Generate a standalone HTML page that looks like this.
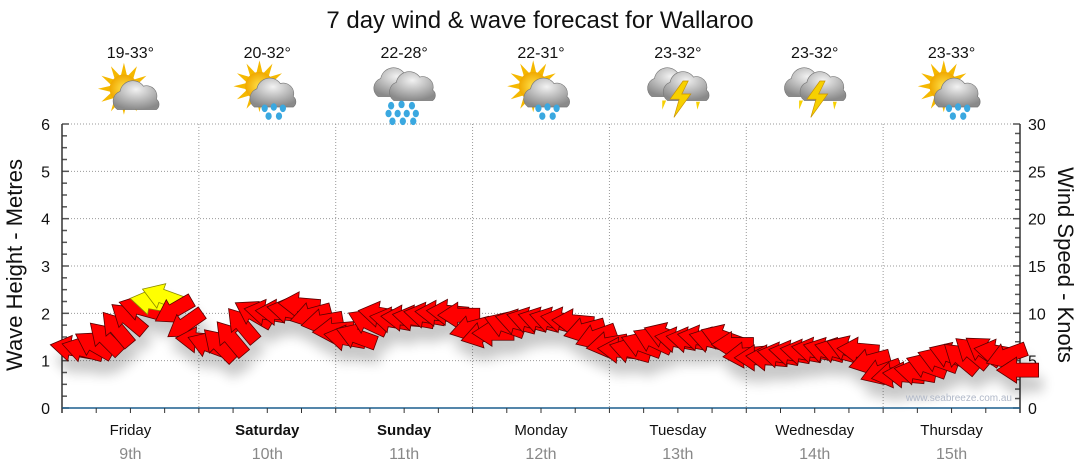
<!DOCTYPE html>
<html><head><meta charset="utf-8"><style>
html,body{margin:0;padding:0;background:#fff;width:1080px;height:475px;overflow:hidden}
svg{display:block;font-family:"Liberation Sans","DejaVu Sans",sans-serif}
</style></head><body>
<svg id="chart" width="1080" height="475" viewBox="0 0 1080 475">
<defs>
<filter id="shadow" x="-20%" y="-20%" width="140%" height="200%">
<feGaussianBlur in="SourceAlpha" stdDeviation="6"/>
<feOffset dx="4" dy="14" result="b"/>
<feComponentTransfer><feFuncA type="linear" slope="0.22"/></feComponentTransfer>
<feMerge><feMergeNode/><feMergeNode in="SourceGraphic"/></feMerge>
</filter>
<radialGradient id="cloudG" cx="50%" cy="30%" r="70%"><stop offset="0" stop-color="#f2f2f2"/><stop offset="1" stop-color="#8a8a8a"/></radialGradient>
<radialGradient id="sunG" cx="50%" cy="50%" r="50%"><stop offset="0" stop-color="#ffe14a"/><stop offset="1" stop-color="#f0a800"/></radialGradient>
</defs>
<text x="540" y="28" text-anchor="middle" font-size="24" fill="#111">7 day wind &amp; wave forecast for Wallaroo</text>
<g id="grid"></g>
<g id="axes"></g>
<g id="icons"></g>
<g id="arrows" filter="url(#shadow)"></g>
<text x="1012" y="401" text-anchor="end" font-size="10" fill="#b0b8c8">www.seabreeze.com.au</text>
<text transform="translate(22,265) rotate(-90)" text-anchor="middle" font-size="22" fill="#111">Wave Height - Metres</text>
<text transform="translate(1058,265) rotate(90)" text-anchor="middle" font-size="22" fill="#111">Wind Speed - Knots</text>
</svg>
<script>
const days = ["Friday","Saturday","Sunday","Monday","Tuesday","Wednesday","Thursday"];
const dates = ["9th","10th","11th","12th","13th","14th","15th"];
const boldDays = [false,true,true,false,false,false,false];
const temps = ["19-33°","20-32°","22-28°","22-31°","23-32°","23-32°","23-33°"];
const icons = ["sunCloud","sunRain","rain","sunRain","storm","storm","sunRain"];
const waveTicks = [0,1,2,3,4,5,6];
const windTicks = [0,5,10,15,20,25,30];
// wind speed (knots) every 2 hours
const windSpeed = [6.3,6.2,6.7,7.4,8.4,9.5,10.6,11.2,11.8,10.3,8.8,7.2,
 6.7,6.7,7.4,8.8,10.0,10.1,10.1,10.3,10.9,9.8,9.1,8.2,
 7.4,7.6,9.1,9.9,9.3,9.5,9.5,9.8,10.0,10.1,9.8,8.4,
 7.7,7.9,8.8,9.1,9.3,9.3,9.3,9.3,9.1,8.2,7.5,6.7,
 6.1,6.1,6.7,7.2,7.7,7.2,7.2,7.4,7.2,7.5,6.7,5.6,
 5.3,5.3,5.6,5.8,5.9,6.1,6.1,6.1,6.3,6.1,4.9,3.8,
 3.5,3.5,3.8,4.5,5.1,5.6,5.3,5.9,6.1,5.9,5.5,4.0];
// arrow tilt in degrees (0 = pointing left, + = up-left)
const windTilt = [10,15,30,45,50,40,15,10,20,-30,-35,5,
 20,45,50,50,30,10,5,10,5,-15,-10,-5,
 10,20,25,10,10,5,10,10,5,5,0,-15,
 -15,0,20,15,15,15,15,10,5,-15,-20,-10,
 5,15,20,25,20,10,10,10,15,20,0,-5,
 0,5,10,10,10,10,15,15,20,5,-15,-20,
 -10,5,10,20,20,20,40,40,35,10,-20,0];

const NS="http://www.w3.org/2000/svg";
const X0=62,X1=1020,Y0=408,Y1=124,DAYW=(X1-X0)/7;
const yWave=v=>Y0-(v/6)*(Y0-Y1);
const yWind=v=>Y0-(v/30)*(Y0-Y1);
const xHour=h=>X0+(h/24)*DAYW;
function mk(tag,attrs,parent){const e=document.createElementNS(NS,tag);for(const k in attrs)e.setAttribute(k,attrs[k]);parent.appendChild(e);return e;}
const grid=document.getElementById('grid'),axes=document.getElementById('axes'),ic=document.getElementById('icons'),ar=document.getElementById('arrows');

waveTicks.forEach(t=>{
  if(t>0){const g=mk('line',{x1:X0,x2:X1,y1:yWave(t),y2:yWave(t),stroke:'#999','stroke-dasharray':'1,2'},grid);
  
  }
  const l=mk('text',{x:50,y:yWave(t)+6,'text-anchor':'end','font-size':16,fill:'#111'},axes);l.textContent=t;
  
  
});
for(let i=0;i<=24;i++){const y=Y0-i*(Y0-Y1)/24;mk('line',{x1:X0,x2:X0+(i%4==0?7:5),y1:y,y2:y,stroke:'#555','stroke-width':1.5},axes);}
windTicks.forEach(t=>{
  const l=mk('text',{x:1028,y:yWind(t)+6,'font-size':16,fill:'#111'},axes);l.textContent=t;
  
  
});
for(let i=0;i<=30;i++){const y=yWind(i);mk('line',{x1:X1,x2:X1-(i%5==0?7:5),y1:y,y2:y,stroke:'#555','stroke-width':1.5},axes);}
mk('line',{x1:X0,x2:X0,y1:Y1,y2:Y0+5,stroke:'#333','stroke-width':1.5},axes);
mk('line',{x1:X1,x2:X1,y1:Y1,y2:Y0+5,stroke:'#333','stroke-width':1.5},axes);
mk('line',{x1:X0,x2:X1,y1:Y0,y2:Y0,stroke:'#1b5e8e','stroke-width':1.5},axes);

days.forEach((d,i)=>{
  const xs=X0+i*DAYW,xc=xs+DAYW/2;
  if(i>0){const v=mk('line',{x1:xs,x2:xs,y1:Y1,y2:Y0,stroke:'#999','stroke-dasharray':'1,2'},grid);
  
  }
  for(let q=0;q<4;q++){const x=xs+q*DAYW/4;mk('line',{x1:x,x2:x,y1:Y0,y2:Y0+5,stroke:'#333'},axes);}
  const t=mk('text',{x:xc,y:435,'text-anchor':'middle','font-size':15,fill:'#111','font-weight':boldDays[i]?'bold':'normal'},axes);t.textContent=d;
  
  
  const dt=mk('text',{x:xc,y:459,'text-anchor':'middle','font-size':16,fill:'#888'},axes);dt.textContent=dates[i];
  
  
  const tp=mk('text',{x:xc,y:58,'text-anchor':'middle','font-size':16,fill:'#111'},ic);tp.textContent=temps[i];
  
  
  const g=mk('g',{transform:`translate(${xc},${94}) scale(1.3)`},ic);
  
  
  drawIcon(g,icons[i]);
});

function sun(g,cx,cy){for(let a=0;a<360;a+=30){const r=a*Math.PI/180;mk('polygon',{points:`${cx+Math.cos(r)*20},${cy+Math.sin(r)*20} ${cx+Math.cos(r+0.25)*10},${cy+Math.sin(r+0.25)*10} ${cx+Math.cos(r-0.25)*10},${cy+Math.sin(r-0.25)*10}`,fill:'#f5b800'},g);}
 mk('circle',{cx,cy,r:11,fill:'url(#sunG)'},g);}
function cloud(g,cx,cy,s){mk('path',{d:`M${cx-14*s},${cy+8*s} a8,8 0 0 1 2,-14 a10,10 0 0 1 18,-4 a8,8 0 0 1 10,10 a5,5 0 0 1 0,8 z`,fill:'url(#cloudG)',stroke:'#777','stroke-width':0.5},g);}
function drops(g,pts){pts.forEach(p=>mk('ellipse',{cx:p[0],cy:p[1],rx:2.4,ry:2.9,fill:'#3aa8e0'},g));}
function bolt(g,cx,cy){mk('polygon',{points:`${cx+2},${cy-10} ${cx-8},${cy+4} ${cx-1},${cy+4} ${cx-5},${cy+18} ${cx+8},${cy} ${cx+1},${cy} ${cx+6},${cy-10}`,fill:'#f7d000',stroke:'#c89000','stroke-width':0.5},g);}
function drawIcon(g,t){
  if(t=="sunCloud"){sun(g,-5,-4);cloud(g,4,4,1);}
  else if(t=="sunRain"){sun(g,-6,-6);cloud(g,4,2,1);drops(g,[[-2,11],[5,10],[12,11],[1,17],[9,17]]);}
  else if(t=="rain"){cloud(g,-6,-6,1);cloud(g,6,-3,1);drops(g,[[-10,9],[-2,8],[6,9],[-12,15],[-5,15],[2,15],[9,15],[-9,21],[-1,21],[7,21]]);}
  else {cloud(g,-6,-6,1);cloud(g,6,-3,1);bolt(g,2,0);mk('polygon',{points:"-12,5 -9,5 -12,12",fill:'#f7d000'},g);mk('polygon',{points:"14,6 17,6 15,12",fill:'#f7d000'},g);}
}

windSpeed.forEach((v,i)=>{
  const x=xHour(i*2)+9,y=yWind(v);
  const p=mk('polygon',{points:"-21,0 -1,-13 -1,-7 21,-7 21,7 -1,7 -1,13",fill:v>=11?'#ffff00':'#ff0000',stroke:v>=11?'#8a8a00':'#5a0000','stroke-width':0.8,'stroke-linejoin':'miter',transform:`translate(${x},${y}) rotate(${windTilt[i]})`},ar);
  
  
});
</script>
</body></html>
